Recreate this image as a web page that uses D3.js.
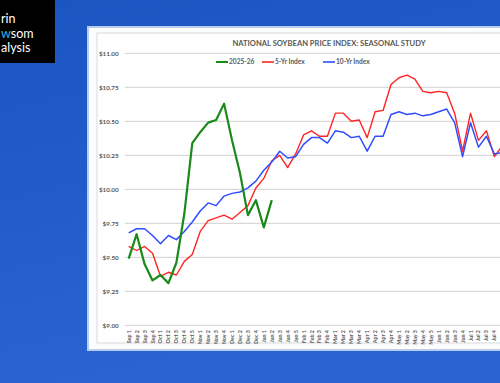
<!DOCTYPE html>
<html>
<head>
<meta charset="utf-8">
<script src="https://cdn.jsdelivr.net/npm/d3@7"></script>
<style>
  html, body { margin: 0; padding: 0; overflow: hidden; }
  svg { display: block; font-family: Lato, 'Open Sans', sans-serif; }
</style>
</head>
<body>
<svg></svg>
<script>
const weeks = ['Sep 1','Sep 2','Sep 3','Sep 4','Oct 1','Oct 2','Oct 3','Oct 4','Oct 5',
  'Nov 1','Nov 2','Nov 3','Nov 4','Dec 1','Dec 2','Dec 3','Dec 4',
  'Jan 1','Jan 2','Jan 3','Jan 4','Jan 5','Feb 1','Feb 2','Feb 3','Feb 4',
  'Mar 1','Mar 2','Mar 3','Mar 4','Apr 1','Apr 2','Apr 3','Apr 4',
  'May 1','May 2','May 3','May 4','May 5','Jun 1','Jun 2','Jun 3','Jun 4',
  'Jul 1','Jul 2','Jul 3','Jul 4','Aug 1'];

const current = [9.49, 9.67, 9.45, 9.33, 9.37, 9.31, 9.46, 9.82, 10.34, 10.42, 10.49, 10.51, 10.63,
  10.36, 10.12, 9.81, 9.92, 9.72, 9.92];

const fiveYr = [9.58, 9.55, 9.58, 9.53, 9.36, 9.39, 9.37, 9.47, 9.52, 9.69, 9.77, 9.79, 9.81,
  9.78, 9.83, 9.88, 10.01, 10.08, 10.21, 10.25, 10.16, 10.26, 10.40, 10.43, 10.39, 10.39,
  10.56, 10.56, 10.50, 10.51, 10.38, 10.57, 10.58, 10.77, 10.82, 10.84, 10.81, 10.72, 10.71,
  10.72, 10.71, 10.56, 10.28, 10.56, 10.36, 10.43, 10.24, 10.32];

const tenYr = [9.68, 9.71, 9.71, 9.66, 9.60, 9.66, 9.63, 9.69, 9.76, 9.84, 9.90, 9.88, 9.95,
  9.97, 9.98, 10.01, 10.06, 10.14, 10.20, 10.28, 10.23, 10.24, 10.33, 10.38, 10.38, 10.34,
  10.43, 10.42, 10.38, 10.39, 10.28, 10.39, 10.39, 10.55, 10.57, 10.55, 10.56, 10.54, 10.55,
  10.57, 10.59, 10.49, 10.24, 10.49, 10.31, 10.39, 10.26, 10.27];

const seriesNames = ['2025-26', '5-Yr Index', '10-Yr Index'];
const seriesColors = ['#1a8a1a', '#ff2424', '#2f4dff'];
const yTicks = [9.00, 9.25, 9.50, 9.75, 10.00, 10.25, 10.50, 10.75, 11.00];

const size = {w: 500, h: 383};
const svg = d3.select('svg')
    .attr('width', size.w)
    .attr('height', size.h);

// background
const defs = svg.append('defs');
const grad = defs.append('linearGradient')
    .attr('id', 'bg')
    .attr('x1', 0).attr('y1', 0).attr('x2', 0.3).attr('y2', 1);
grad.append('stop').attr('offset', '0%').attr('stop-color', '#1a55c2');
grad.append('stop').attr('offset', '100%').attr('stop-color', '#2c63d2');

svg.append('rect')
    .attr('width', size.w).attr('height', size.h)
    .attr('fill', 'url(#bg)');

// logo block (cropped at the left edge in the original)
svg.append('rect')
    .attr('x', 0).attr('y', 0)
    .attr('width', 55).attr('height', 63)
    .attr('fill', '#000');

const logo = svg.append('g')
    .attr('font-family', 'Lato, sans-serif')
    .attr('font-size', 12.5)
    .attr('fill', '#fff');
logo.append('text').attr('x', 1).attr('y', 23).text('rin');
const nw = logo.append('text').attr('x', 1).attr('y', 37.5);
nw.append('tspan').attr('fill', '#29b6f0').text('w');
nw.append('tspan').text('som');
logo.append('text').attr('x', 1).attr('y', 52).text('alysis');

// chart panel
svg.append('rect')
    .attr('x', 88).attr('y', 27)
    .attr('width', 430).attr('height', 323)
    .attr('fill', '#fbfcfe')
    .attr('stroke', '#b9cdef')
    .attr('stroke-width', 2);

svg.append('rect')
    .attr('x', 97).attr('y', 33)
    .attr('width', 420).attr('height', 310)
    .attr('fill', '#fff')
    .attr('stroke', '#d9d9d9')
    .attr('stroke-width', 1);

const x = d3.scaleBand()
    .domain(weeks)
    .range([124.7, 124.7 + weeks.length * 7.95]);

const y = d3.scaleLinear()
    .domain([9, 11])
    .range([325.3, 53.3]);

// grid + y labels
const grid = svg.append('g');
grid.selectAll('line')
    .data(yTicks)
    .enter()
    .append('line')
    .attr('x1', 124.7)
    .attr('x2', size.w)
    .attr('y1', d => y(d))
    .attr('y2', d => y(d))
    .attr('stroke', '#d9d9d9')
    .attr('stroke-width', 1.3);

grid.selectAll('text')
    .data(yTicks)
    .enter()
    .append('text')
    .attr('x', 118.7)
    .attr('y', d => y(d) + 2.2)
    .attr('text-anchor', 'end')
    .attr('font-size', 6.3)
    .attr('font-weight', 'bold')
    .attr('fill', '#595959')
    .text(d => '$' + d.toFixed(2));

// x labels (the last category falls past the picture's edge)
svg.append('g')
    .selectAll('text')
    .data(weeks.filter(d => x(d) + x.bandwidth() / 2 < size.w))
    .enter()
    .append('text')
    .attr('transform', d => 'translate(' + (x(d) + x.bandwidth() / 2 + 2) + ',330) rotate(-90)')
    .attr('text-anchor', 'end')
    .attr('font-size', 5.4)
    .attr('font-weight', 'bold')
    .attr('fill', '#595959')
    .text(d => d);

// lines
const line = d3.line()
    .x((d, i) => x(weeks[i]) + x.bandwidth() / 2)
    .y(d => y(d));

const allSeries = [current, fiveYr, tenYr];
const widths = [2.2, 1.4, 1.5];
svg.append('g')
    .selectAll('path')
    .data([fiveYr, tenYr, current])
    .enter()
    .append('path')
    .attr('d', d => line(d))
    .attr('fill', 'none')
    .attr('stroke', d => seriesColors[allSeries.indexOf(d)])
    .attr('stroke-width', d => widths[allSeries.indexOf(d)])
    .attr('stroke-linejoin', 'round');

// title
svg.append('text')
    .attr('x', 329)
    .attr('y', 46)
    .attr('text-anchor', 'middle')
    .attr('font-size', 7.6)
    .attr('font-weight', 'bold')
    .attr('fill', '#595959')
    .text('NATIONAL SOYBEAN PRICE INDEX: SEASONAL STUDY');

// legend
const legendX = [216, 262, 323];
const legend = svg.append('g')
    .selectAll('g')
    .data(seriesNames)
    .enter()
    .append('g')
    .attr('transform', (d, i) => 'translate(' + legendX[i] + ',62)');

legend.append('line')
    .attr('x1', 0).attr('x2', 12)
    .attr('stroke', (d, i) => seriesColors[i])
    .attr('stroke-width', (d, i) => i == 0 ? 2 : 1.6);

legend.append('text')
    .attr('x', 13)
    .attr('y', 2.3)
    .attr('font-size', 6.6)
    .attr('font-weight', 'bold')
    .attr('fill', '#595959')
    .text(d => d);
</script>
</body>
</html>
